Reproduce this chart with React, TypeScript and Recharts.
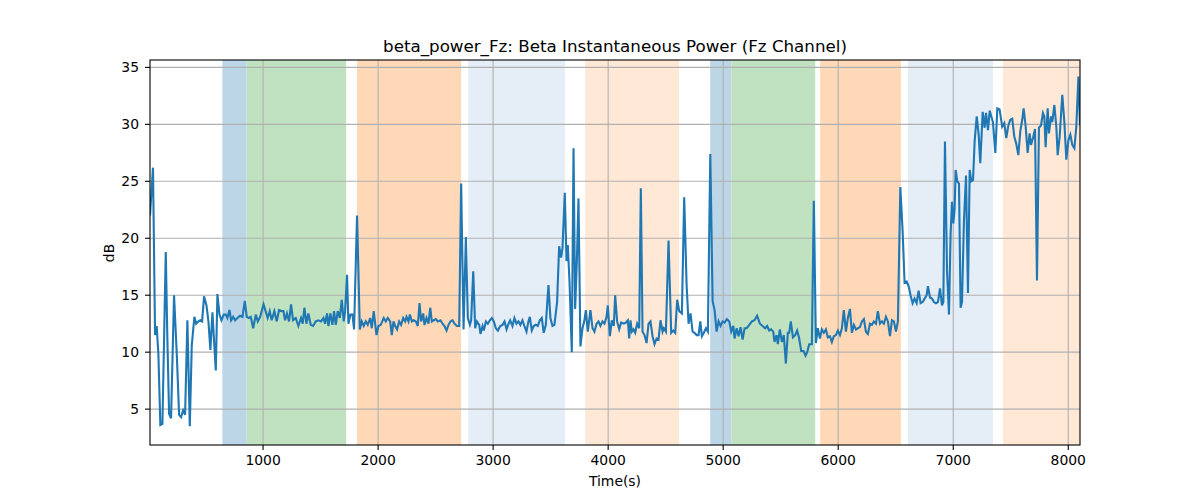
import { ComposedChart, Line, XAxis, YAxis, ReferenceLine, ReferenceArea } from "recharts";

// Beta instantaneous power on Fz, with the task phases shaded behind it.

// [time (s), power (dB)], split by region.
const seg1 = [
  [17, 22.0], [43, 26.2], [61, 11.5], [75, 12.3], [90, 9.8], [107, 3.6], [125, 3.7], [154, 18.8],
  [168, 11.2], [183, 4.6], [200, 4.2], [226, 15.0], [250, 9.8], [270, 4.5], [287, 4.3], [305, 4.9],
  [322, 4.5], [342, 12.8], [363, 3.5], [380, 10.6], [403, 13.1], [418, 12.5], [438, 12.7], [455, 12.8],
  [470, 12.7], [487, 14.9], [508, 14.1], [525, 12.7], [542, 10.2], [560, 13.5], [571, 11.5], [589, 8.4],
  [603, 15.1], [621, 13.3], [638, 12.8], [658, 13.3], [676, 13.3], [690, 13.0], [708, 13.7], [722, 12.8],
  [740, 13.1], [757, 12.8], [777, 13.0], [800, 13.2], [821, 13.1], [841, 14.5], [858, 13.1], [876, 13.0],
  [893, 13.1], [914, 12.1], [937, 13.3], [954, 12.7], [975, 13.1], [1004, 14.2],
];
const seg2 = [
  [1040, 13.0], [1058, 13.6], [1075, 12.8], [1098, 13.6], [1119, 12.7], [1139, 13.7], [1162, 13.6],
  [1177, 13.6], [1191, 12.8], [1208, 13.4], [1226, 12.7], [1243, 14.2], [1261, 12.8], [1284, 13.0],
  [1307, 12.3], [1330, 13.0], [1345, 12.5], [1359, 13.9], [1377, 12.5], [1394, 13.4], [1414, 12.4],
  [1435, 12.3], [1458, 12.7], [1481, 12.8], [1504, 12.7], [1525, 13.0], [1539, 12.5], [1556, 13.4],
  [1568, 12.3], [1585, 13.4], [1603, 12.4], [1617, 13.6], [1632, 12.4], [1649, 13.6], [1667, 13.0],
  [1684, 14.6], [1701, 12.7], [1713, 13.6], [1730, 16.8], [1742, 12.5], [1759, 13.3], [1777, 13.3],
  [1791, 12.0], [1817, 22.0], [1841, 12.0], [1858, 12.7], [1875, 12.3], [1893, 12.7], [1910, 12.4],
  [1931, 13.0], [1945, 12.1], [1962, 13.6], [1986, 11.5], [2003, 12.3], [2023, 12.4], [2049, 13.0],
  [2067, 12.7], [2084, 13.0],
];
const seg3 = [
  [2105, 12.7], [2119, 11.5], [2134, 12.7], [2148, 12.3], [2165, 12.0], [2183, 12.7], [2200, 12.4],
  [2218, 13.0], [2235, 12.7], [2247, 13.1], [2264, 12.7], [2276, 13.3], [2293, 12.7], [2310, 12.8],
  [2328, 12.7], [2345, 12.3], [2360, 14.3], [2374, 12.7], [2392, 13.4], [2403, 12.4], [2421, 13.0],
  [2438, 12.5], [2453, 13.9], [2467, 12.7], [2484, 12.8], [2502, 12.9], [2519, 12.7], [2542, 12.8],
  [2560, 12.5], [2577, 12.3], [2595, 11.9], [2612, 12.4], [2629, 12.7], [2647, 12.8], [2664, 12.5],
  [2685, 12.3], [2705, 12.3], [2722, 24.8], [2743, 12.0], [2763, 20.1], [2780, 13.0], [2798, 12.4],
  [2809, 12.8], [2827, 17.1], [2844, 12.1], [2859, 12.7], [2879, 12.4], [2890, 11.6], [2908, 12.3],
  [2919, 11.9], [2937, 12.7], [2954, 12.5], [2972, 12.8], [2989, 13.0], [3006, 12.7], [3024, 12.1],
  [3041, 11.9], [3062, 12.3], [3082, 12.4], [3099, 12.7], [3117, 12.0], [3134, 12.5], [3148, 12.8],
];
const seg4 = [
  [3168, 12.3], [3185, 13.0], [3203, 12.5], [3220, 12.7], [3237, 12.4], [3255, 12.8], [3272, 12.3],
  [3290, 11.8], [3307, 12.7], [3319, 13.1], [3336, 11.9], [3353, 12.3], [3371, 12.4], [3388, 12.3],
  [3406, 12.8], [3423, 13.0], [3440, 11.7], [3458, 12.4], [3481, 15.9], [3498, 13.0], [3516, 12.3],
  [3533, 12.4], [3556, 14.4], [3574, 19.3], [3591, 18.3], [3603, 19.1], [3623, 24.0], [3638, 18.0],
  [3649, 19.4], [3664, 16.2], [3684, 10.0], [3699, 27.9], [3713, 13.8], [3728, 18.0], [3742, 23.5],
  [3759, 10.5], [3777, 12.1], [3794, 12.8], [3806, 13.7], [3823, 11.8], [3846, 13.7], [3864, 12.1],
  [3881, 11.8], [3899, 12.5], [3916, 12.7], [3933, 12.3], [3951, 12.7], [3968, 12.5], [3986, 13.1],
  [3997, 14.1], [4015, 11.4], [4032, 12.8], [4049, 12.3], [4061, 15.0], [4078, 12.7], [4096, 12.0],
  [4113, 12.6], [4136, 12.5], [4154, 12.6], [4171, 12.8], [4183, 11.2],
];
const seg5 = [
  [4194, 12.8], [4206, 11.8], [4220, 12.0], [4235, 11.7], [4252, 12.5], [4270, 12.1], [4284, 24.4],
  [4299, 11.8], [4316, 11.5], [4334, 10.8], [4351, 12.5], [4368, 12.7], [4386, 11.4], [4403, 10.7],
  [4421, 11.2], [4438, 11.1], [4455, 12.8], [4473, 11.8], [4484, 12.1], [4502, 11.8], [4525, 19.8],
  [4548, 11.7], [4566, 11.9], [4583, 11.7], [4600, 14.6], [4618, 13.6], [4641, 13.4], [4661, 23.6],
  [4682, 15.9], [4699, 12.5], [4716, 13.4], [4734, 11.8], [4751, 11.7], [4769, 11.5], [4786, 11.5],
  [4801, 12.7], [4815, 11.4], [4832, 11.7], [4850, 12.1], [4867, 11.8], [4888, 27.4], [4908, 14.5],
  [4925, 13.7], [4943, 11.8], [4960, 12.7], [4977, 12.3], [4995, 12.7], [5012, 12.6], [5032, 12.9],
  [5053, 12.7], [5070, 11.8], [5088, 12.3], [5099, 11.2], [5117, 12.1], [5134, 11.4], [5151, 12.2],
  [5169, 11.1], [5186, 12.1], [5204, 12.1], [5227, 12.4],
];
const seg6 = [
  [5249, 12.7], [5272, 12.8], [5295, 13.2], [5319, 12.5], [5342, 12.3], [5365, 12.1], [5382, 12.3],
  [5400, 11.9], [5417, 12.0], [5435, 11.8], [5446, 10.9], [5464, 11.5], [5475, 10.7], [5493, 12.0],
  [5510, 10.9], [5527, 11.5], [5545, 9.0], [5562, 11.7], [5574, 11.7], [5588, 12.7], [5606, 11.3],
  [5626, 11.5], [5643, 11.9], [5661, 11.2], [5678, 10.1], [5699, 10.1], [5716, 9.7], [5730, 10.0],
  [5748, 10.7], [5771, 10.7], [5788, 23.3], [5806, 10.8], [5823, 12.1], [5841, 11.2], [5858, 12.0],
  [5875, 11.7], [5893, 12.0], [5910, 11.3], [5928, 11.4], [5945, 10.9], [5962, 11.4], [5980, 11.5],
  [5997, 11.9], [6015, 11.5], [6032, 12.1], [6049, 13.7], [6067, 11.8], [6084, 13.0], [6102, 13.8],
  [6119, 11.7], [6136, 12.4], [6154, 12.0], [6171, 12.1], [6189, 12.2], [6206, 12.7], [6223, 12.9],
  [6241, 11.8], [6258, 11.6],
];
const seg7 = [
  [6276, 12.5], [6293, 12.4], [6310, 12.7], [6328, 12.5], [6345, 13.6], [6363, 12.5], [6380, 12.7],
  [6397, 12.5], [6415, 13.1], [6432, 12.7], [6450, 11.4], [6467, 12.8], [6484, 12.7], [6502, 11.8],
  [6519, 12.7], [6540, 24.5], [6560, 20.6], [6577, 16.1], [6595, 16.2], [6612, 15.8], [6629, 15.0],
  [6647, 14.3], [6664, 14.7], [6682, 14.3], [6699, 15.4], [6716, 14.3], [6734, 14.4], [6751, 14.7],
  [6769, 15.0], [6780, 15.8], [6798, 14.8], [6815, 14.7], [6832, 14.4], [6850, 14.3], [6867, 14.4],
  [6885, 15.6], [6902, 14.1], [6914, 14.4], [6928, 28.5], [6946, 17.1], [6963, 13.3], [6977, 20.3],
  [6989, 23.2], [7001, 21.3], [7012, 22.6], [7021, 26.0], [7035, 25.0], [7050, 24.8], [7064, 13.9],
  [7076, 14.4], [7093, 21.5], [7111, 25.5], [7128, 15.2], [7143, 26.0], [7157, 25.0], [7172, 25.1],
  [7186, 28.5], [7204, 30.7], [7221, 29.1], [7235, 26.6], [7256, 31.1], [7273, 29.7], [7285, 31.0],
  [7302, 29.5], [7317, 31.2],
];
const seg8 = [
  [7345, 30.2], [7366, 27.5], [7383, 31.4], [7403, 31.3], [7426, 29.8], [7444, 30.1], [7461, 28.8],
  [7479, 29.9], [7496, 30.4], [7513, 30.5], [7531, 28.9], [7548, 28.3], [7566, 27.3], [7583, 29.4],
  [7600, 30.4], [7612, 31.4], [7629, 29.9], [7647, 27.5], [7664, 29.2], [7676, 28.2], [7693, 28.8],
  [7711, 29.6], [7728, 16.3], [7745, 29.7], [7763, 29.9], [7780, 31.0], [7792, 30.7], [7803, 28.0],
  [7821, 31.4], [7832, 29.2], [7850, 30.7], [7861, 30.2], [7879, 31.7], [7896, 29.8], [7908, 27.3],
  [7925, 28.9], [7948, 32.6], [7966, 30.2], [7983, 26.9], [8001, 28.6], [8018, 29.1], [8035, 28.2],
  [8053, 27.9], [8070, 29.8], [8088, 34.2], [8102, 29.9],
];

// shaded phases
const bandStart = [646, 858, 1817, 2783, 3800, 4887, 5070, 5843, 6606, 7432];
const bandEnd = [858, 1722, 2722, 3626, 4617, 5070, 5800, 6545, 7345, 8102];
const bandKind = ["blue", "green", "orange", "paleBlue", "paleOrange", "blue", "green", "orange", "paleBlue", "paleOrange"];

const xTicks = [1000, 2000, 3000, 4000, 5000, 6000, 7000, 8000];
const yTicks = [5, 10, 15, 20, 25, 30, 35];

const BAND_FILL: Record<string, string> = {
  blue: "#bcd6e8",
  green: "#c0e2c0",
  orange: "#ffd9b7",
  paleBlue: "#e5edf7",
  paleOrange: "#ffe9d6",
};

const FONT = "'DejaVu Sans', sans-serif";
const GRID = "#b0b0b0";
const tickStyle = { fill: "#000", fontSize: 13.9, fontFamily: FONT };

const data = [...seg1, ...seg2, ...seg3, ...seg4, ...seg5, ...seg6, ...seg7, ...seg8].map(([t, v]) => ({ t, v }));

export default function App() {
  return (
    <div style={{ position: "absolute", left: 0, top: 0, width: 1200, height: 500, background: "#fff" }}>
      <ComposedChart width={1200} height={500} data={data} margin={{ top: 60, right: 120, bottom: 0, left: 0 }}>
        {bandStart.map((x1, i) => (
          <ReferenceArea
            key={"b" + i}
            x1={x1}
            x2={bandEnd[i]}
            fill={BAND_FILL[bandKind[i]]}
            fillOpacity={1}
            stroke="none"
            ifOverflow="hidden"
          />
        ))}
        {/* grid sits above the shaded phases, as in matplotlib */}
        {xTicks.map((x) => (
          <ReferenceLine key={"gx" + x} x={x} stroke={GRID} strokeWidth={1.1} />
        ))}
        {yTicks.map((y) => (
          <ReferenceLine key={"gy" + y} y={y} stroke={GRID} strokeWidth={1.1} />
        ))}
        <XAxis
          dataKey="t"
          type="number"
          domain={[17, 8102]}
          allowDataOverflow
          ticks={xTicks}
          height={55}
          tick={tickStyle}
          tickSize={5}
          tickMargin={5}
          tickLine={{ stroke: "#000", strokeWidth: 1.1 }}
          axisLine={false}
        />
        <YAxis
          type="number"
          domain={[1.85, 35.65]}
          allowDataOverflow
          ticks={yTicks}
          width={150}
          tick={tickStyle}
          tickSize={5}
          tickMargin={6}
          tickLine={{ stroke: "#000", strokeWidth: 1.1 }}
          axisLine={false}
        />
        <Line type="linear" dataKey="v" stroke="#1f77b4" strokeWidth={2.1} dot={false} isAnimationActive={false} />
      </ComposedChart>
      <svg width={1200} height={500} style={{ position: "absolute", left: 0, top: 0, pointerEvents: "none" }}>
        <rect x={150} y={60} width={930} height={385} fill="none" stroke="#000" strokeWidth={1.1} />
        <text x={615} y={52} textAnchor="middle" fontFamily={FONT} fontSize={16.7} fill="#000">
          beta_power_Fz: Beta Instantaneous Power (Fz Channel)
        </text>
        <text x={615} y={486} textAnchor="middle" fontFamily={FONT} fontSize={13.9} fill="#000">
          Time(s)
        </text>
        <text x={114} y={253} textAnchor="middle" fontFamily={FONT} fontSize={13.9} fill="#000" transform="rotate(-90 114 253)">
          dB
        </text>
      </svg>
    </div>
  );
}
